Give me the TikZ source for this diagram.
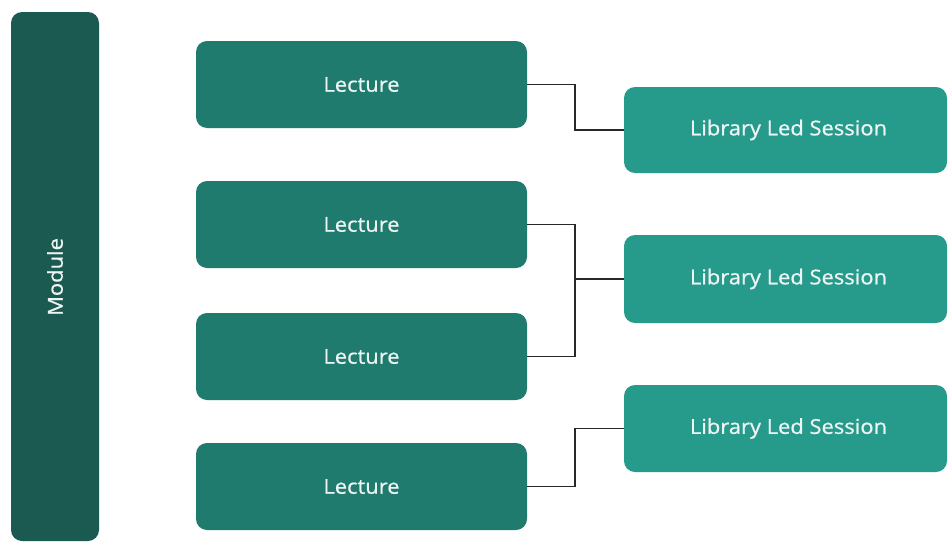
\documentclass[tikz,border=0pt]{standalone}
\usepackage{fontspec}
\setmainfont{Open Sans}[FakeBold=0.8,FakeStretch=1.07]
\definecolor{modc}{RGB}{26,90,80}
\definecolor{lecc}{RGB}{30,123,110}
\definecolor{libc}{RGB}{38,155,140}
\definecolor{linec}{RGB}{40,40,40}
\begin{document}
\begin{tikzpicture}[x=1pt,y=-1pt,
  box/.style={rounded corners=11pt,text=white!92!lecc,font=\fontsize{20.5}{22}\selectfont,inner sep=0pt},
  conn/.style={draw=linec,line width=1.4pt}]
\useasboundingbox (0,0) rectangle (948,541);
\fill[white] (0,0) rectangle (948,541);
\path[fill=modc,rounded corners=11pt] (11,12) rectangle (99,541);
\node[rotate=90,text=white!92!lecc,font=\fontsize{20.5}{22}\selectfont] (mod) at (55,277) {Module};
\node[box,fill=lecc,minimum width=331pt,minimum height=87pt] (l1) at (361.5,84.5) {Lecture};
\node[box,fill=lecc,minimum width=331pt,minimum height=87pt] (l2) at (361.5,224.5) {Lecture};
\node[box,fill=lecc,minimum width=331pt,minimum height=87pt] (l3) at (361.5,356.5) {Lecture};
\node[box,fill=lecc,minimum width=331pt,minimum height=87pt] (l4) at (361.5,486.5) {Lecture};
\node[box,fill=libc,minimum width=323pt,minimum height=86pt] (s1) at (785.5,130) {\hspace*{6pt}Library Led Session};
\node[box,fill=libc,minimum width=323pt,minimum height=88pt] (s2) at (785.5,279) {\hspace*{6pt}Library Led Session};
\node[box,fill=libc,minimum width=323pt,minimum height=87pt] (s3) at (785.5,428.5) {\hspace*{6pt}Library Led Session};
\coordinate (j1) at (575,0);
\draw[conn] (l1.east) -| (j1 |- s1.west) -- (s1.west);
\draw[conn] (l2.east) -| (j1 |- l3.east) -- (l3.east);
\draw[conn] (j1 |- s2.west) -- (s2.west);
\draw[conn] (l4.east) -| (j1 |- s3.west) -- (s3.west);
\end{tikzpicture}
\end{document}
